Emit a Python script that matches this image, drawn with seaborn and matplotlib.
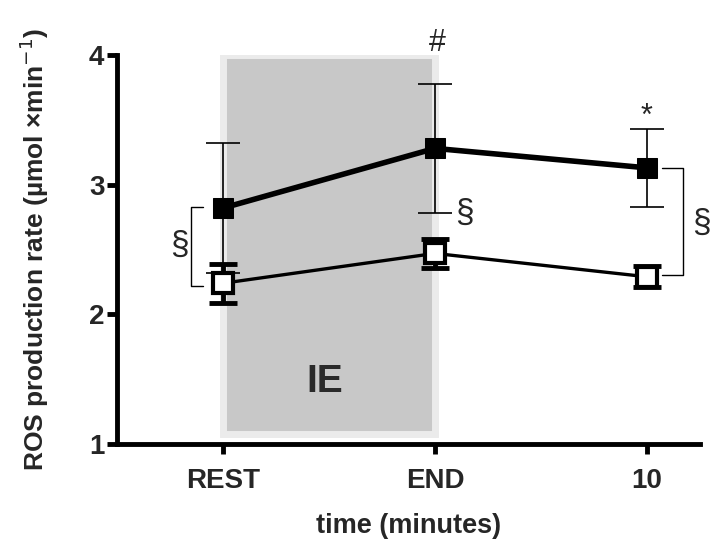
import matplotlib
matplotlib.use("Agg")
import matplotlib.pyplot as plt
import seaborn as sns
import pandas as pd
from matplotlib.patches import Rectangle

# ---- data ----
categories = ["REST", "END", "10"]
filled_mean = [2.82, 3.28, 3.13]
filled_sd = [0.50, 0.50, 0.30]
open_mean = [2.24, 2.47, 2.29]
open_sd = [0.15, 0.11, 0.08]
y_ticks = [1, 2, 3, 4]

sns.set_style("ticks")
plt.rcParams['font.family'] = ['Liberation Sans', 'DejaVu Sans']

fig = plt.figure(figsize=(7.12, 5.45), dpi=100)
ax = fig.add_axes([0.1643, 0.1853, 0.983 - 0.1643, 0.899 - 0.1853])

x = list(range(len(categories)))
df_f = pd.DataFrame({"x": x, "y": filled_mean})
df_o = pd.DataFrame({"x": x, "y": open_mean})

# shaded IE region
ax.add_patch(Rectangle((0, 1.08), 1, 4.0 - 1.08, facecolor="#c8c8c8",
                       edgecolor="#ebebeb", linewidth=5, zorder=0))
ax.text(0.48, 1.48, "IE", ha="center", va="center", fontsize=28,
        fontweight="bold", color="#2a2a2a", zorder=1)

# filled series
ax.errorbar(x, filled_mean, yerr=filled_sd, fmt="none", ecolor="black",
            elinewidth=1.2, capsize=12, capthick=1.2, zorder=2)
sns.lineplot(data=df_f, x="x", y="y", ax=ax, color="black", linewidth=4,
             marker="s", markersize=14, markerfacecolor="black",
             markeredgecolor="black", zorder=3)

# open series
ax.errorbar(x, open_mean, yerr=open_sd, fmt="none", ecolor="black",
            elinewidth=3.5, capsize=10, capthick=3.5, zorder=4)
sns.lineplot(data=df_o, x="x", y="y", ax=ax, color="black", linewidth=2.4,
             marker="s", markersize=14, markerfacecolor="white",
             markeredgecolor="black", markeredgewidth=3, zorder=5)

# significance brackets
def bracket(xv, x_arm, y0, y1):
    ax.plot([x_arm, xv, xv, x_arm], [y0, y0, y1, y1], color="black",
            linewidth=1.0, clip_on=False, zorder=6)

bracket(-0.152, -0.094, 2.83, 2.22)
ax.text(-0.205, 2.53, "§", ha="center", va="center", fontsize=24)
bracket(2.17, 2.07, 3.13, 2.30)
ax.text(2.255, 2.70, "§", ha="center", va="center", fontsize=24, clip_on=False)
ax.text(1.14, 2.78, "§", ha="center", va="center", fontsize=24)
ax.text(1.01, 4.09, "#", ha="center", va="center", fontsize=22, clip_on=False)
ax.text(2.0, 3.52, "*", ha="center", va="center", fontsize=22, clip_on=False)

# axes styling
ax.set_xlim(-0.5, 2.25)
ax.set_ylim(1, 4)
ax.set_xticks(x)
ax.set_xticklabels(categories)
ax.set_yticks(y_ticks)
ax.set_yticklabels([str(t) for t in y_ticks])
for lab in ax.get_xticklabels() + ax.get_yticklabels():
    lab.set_fontweight("bold")
    lab.set_fontsize(20)
ax.tick_params(axis="both", width=3.5, length=7, color="black", pad=10)
ax.tick_params(axis="y", pad=2)
sns.despine(ax=ax)
for s in ["left", "bottom"]:
    ax.spines[s].set_linewidth(3.5)
    ax.spines[s].set_color("black")
ax.set_facecolor("white")

ax.set_xlabel("time (minutes)", fontsize=19.5, fontweight="bold", labelpad=14)
ax.set_ylabel("ROS production rate (µmol ×min$^{-1}$)", fontsize=19,
              fontweight="bold", labelpad=27)

fig.savefig("out.png", dpi=100, facecolor="white")
